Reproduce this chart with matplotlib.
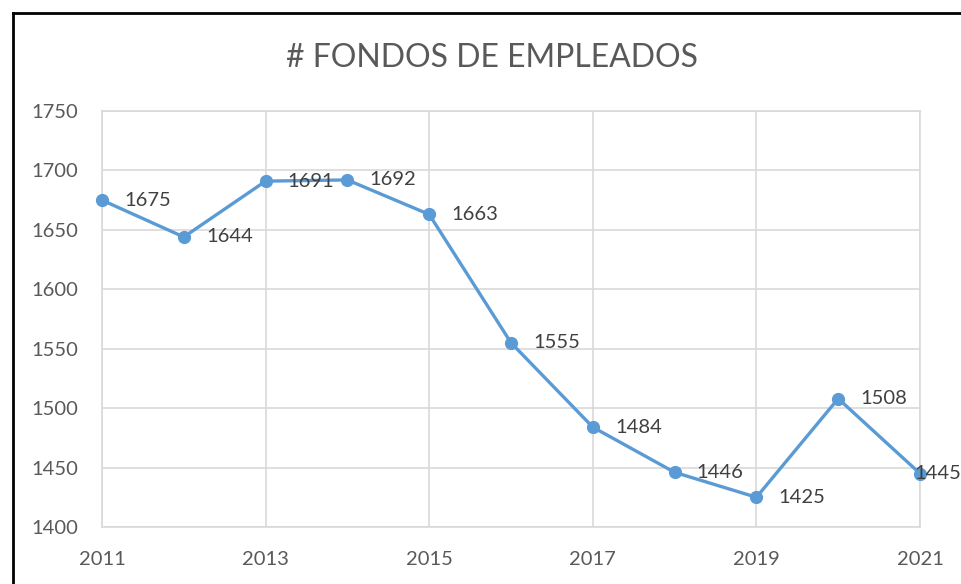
import matplotlib
matplotlib.use("Agg")
import matplotlib.pyplot as plt
from matplotlib.lines import Line2D

years = [2011, 2012, 2013, 2014, 2015, 2016, 2017, 2018, 2019, 2020, 2021]
values = [1675, 1644, 1691, 1692, 1663, 1555, 1484, 1446, 1425, 1508, 1445]
x_ticks = [2011, 2013, 2015, 2017, 2019, 2021]
y_ticks = [1400, 1450, 1500, 1550, 1600, 1650, 1700, 1750]
title = "# FONDOS DE EMPLEADOS"

plt.rcParams['font.family'] = ['Lato', 'DejaVu Sans']

W, H = 961, 584
fig = plt.figure(figsize=(W / 100, H / 100), dpi=100)
ax = fig.add_axes([102 / W, 1 - 527 / H, (920 - 102) / W, (527 - 111) / H])

line_color = '#5B9BD5'
grid_color = '#D9D9D9'
ax.plot(years, values, color=line_color, lw=2.4, marker='o', ms=8.5,
        markerfacecolor=line_color, markeredgecolor=line_color, zorder=3, clip_on=False)

for i, (x, v) in enumerate(zip(years, values)):
    dx = 16 if i < len(years) - 1 else -4
    ax.annotate(str(v), (x, v), xytext=(dx, 0), textcoords='offset points',
                ha='left', va='center', fontsize=14.5, color='#404040',
                annotation_clip=False, zorder=4)

ax.set_xlim(2011, 2021)
ax.set_ylim(1400, 1750)
ax.set_xticks(x_ticks)
ax.set_yticks(y_ticks)
ax.grid(True, color=grid_color, lw=1.2)
ax.set_axisbelow(True)
for s in ax.spines.values():
    s.set_color(grid_color)
    s.set_linewidth(1.2)
ax.tick_params(axis='both', length=0, labelsize=14.5, labelcolor='#595959')
ax.tick_params(axis='x', pad=17)
ax.tick_params(axis='y', pad=17)

fig.text(492 / W, 1 - 58 / H, title, ha='center', va='center', fontsize=23, color='#595959')

fig.add_artist(Line2D([13 / W, 13 / W], [0, 1 - 13 / H], transform=fig.transFigure, color='black', lw=2))
fig.add_artist(Line2D([13 / W, 1], [1 - 13 / H, 1 - 13 / H], transform=fig.transFigure, color='black', lw=2))

fig.savefig('out.png', dpi=100)
